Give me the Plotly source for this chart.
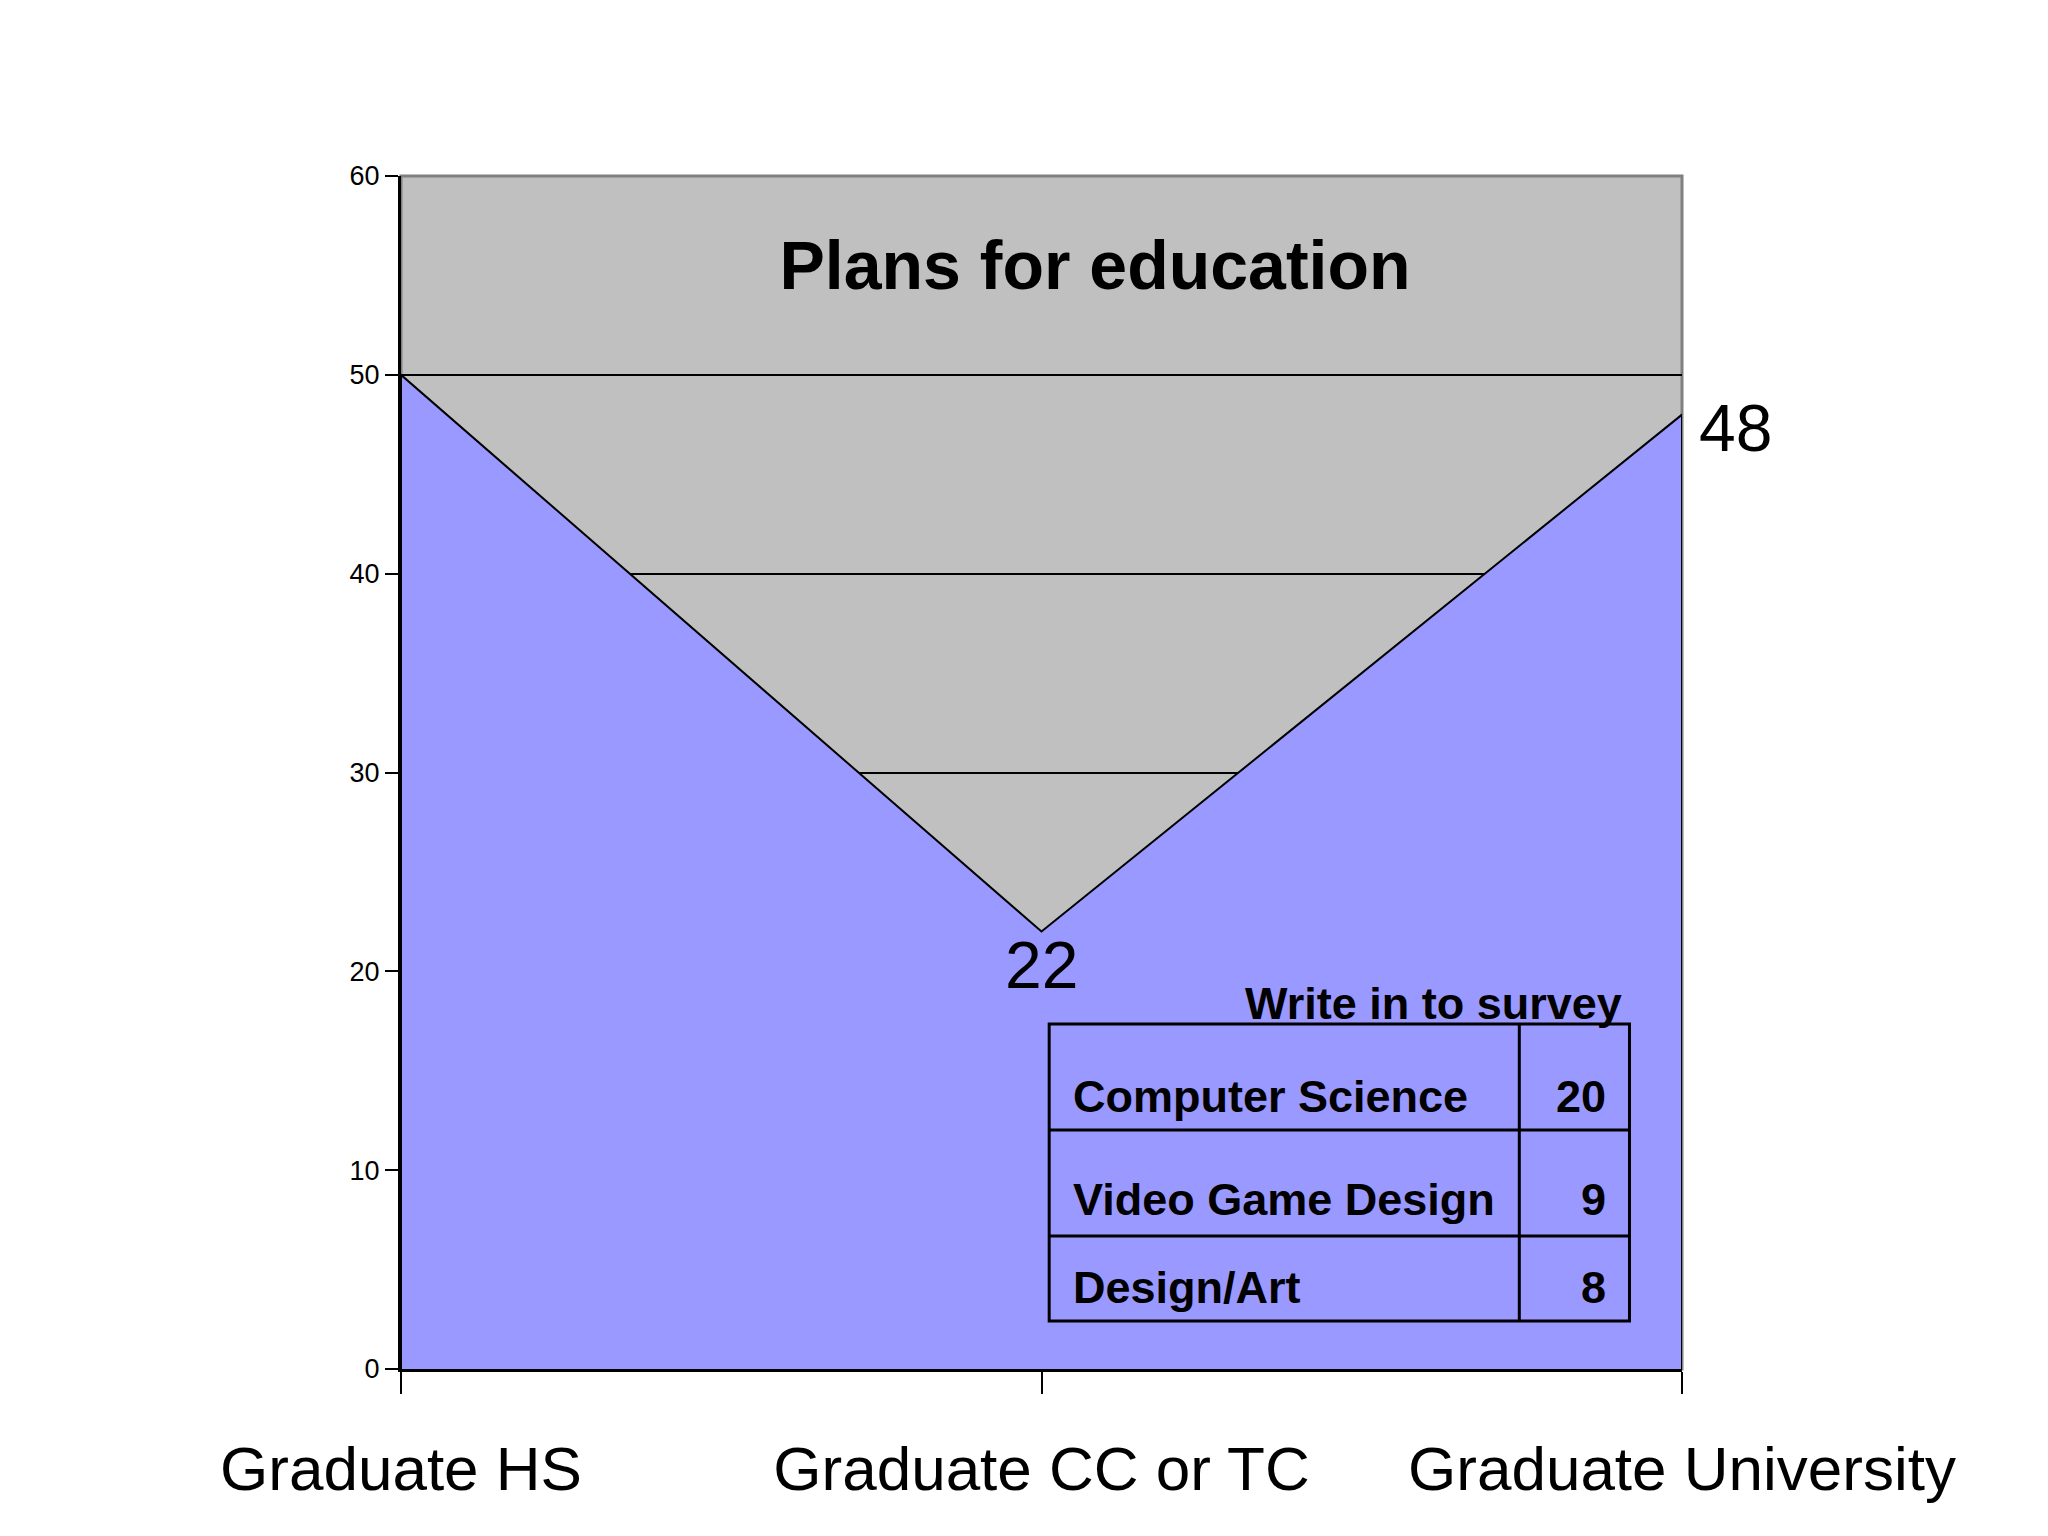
import plotly.graph_objects as go

# ---- data ----
categories = ["Graduate HS", "Graduate CC or TC", "Graduate University"]
plans = [50, 22, 48]
y_ticks = [0, 10, 20, 30, 40, 50, 60]
title_text = "Plans for education"
survey_title = "Write in to survey"
survey_fields = ["Computer Science", "Video Game Design", "Design/Art"]
survey_counts = [20, 9, 8]

FONT = "Liberation Sans, Arial, sans-serif"

# closed polygon for the area so the outline runs round it as in the original
poly_x = [categories[0]] + categories + [categories[-1]]
poly_y = [0] + plans + [0]

fig = go.Figure()
fig.add_trace(go.Scatter(
    x=poly_x, y=poly_y, mode="lines", fill="toself",
    fillcolor="#9999FF", line=dict(color="black", width=2),
    hoverinfo="skip", showlegend=False,
))

annotations = []
# data labels
annotations.append(dict(x=categories[1], y=plans[1], xref="x", yref="y",
                        text=str(plans[1]), showarrow=False, xanchor="center",
                        yanchor="middle", yshift=-33,
                        font=dict(family=FONT, size=66, color="black")))
annotations.append(dict(x=categories[2], y=plans[2], xref="x", yref="y",
                        text=str(plans[2]), showarrow=False, xanchor="left",
                        yanchor="middle", xshift=15, yshift=-13,
                        font=dict(family=FONT, size=66, color="black")))

# survey table
annotations.append(dict(x=0.955, y=18.4, xref="paper", yref="y",
                        text="<b>" + survey_title + "</b>", showarrow=False,
                        xanchor="right", yanchor="middle",
                        font=dict(family=FONT, size=45, color="black")))
row_y = [13.73, 8.5, 4.12]
for name, cnt, yy in zip(survey_fields, survey_counts, row_y):
    annotations.append(dict(x=0.523, y=yy, xref="paper", yref="y",
                            text="<b>" + name + "</b>", showarrow=False,
                            xanchor="left", yanchor="middle",
                            font=dict(family=FONT, size=45, color="black")))
    annotations.append(dict(x=0.942, y=yy, xref="paper", yref="y",
                            text="<b>" + str(cnt) + "</b>", showarrow=False,
                            xanchor="right", yanchor="middle",
                            font=dict(family=FONT, size=45, color="black")))

shapes = [
    # grey plot border (below traces)
    dict(type="rect", xref="paper", yref="paper", x0=0, x1=1, y0=0, y1=1,
         line=dict(color="#808080", width=3), layer="below"),
    # table frame and rules
    dict(type="rect", xref="paper", yref="y", x0=0.506, x1=0.959, y0=2.41, y1=17.35,
         line=dict(color="black", width=3), layer="above"),
    dict(type="line", xref="paper", yref="y", x0=0.873, x1=0.873, y0=2.41, y1=17.35,
         line=dict(color="black", width=3), layer="above"),
    dict(type="line", xref="paper", yref="y", x0=0.506, x1=0.959, y0=12.02, y1=12.02,
         line=dict(color="black", width=3), layer="above"),
    dict(type="line", xref="paper", yref="y", x0=0.506, x1=0.959, y0=6.69, y1=6.69,
         line=dict(color="black", width=3), layer="above"),
]

fig.update_layout(
    width=2048, height=1536,
    paper_bgcolor="white", plot_bgcolor="#C0C0C0",
    margin=dict(l=393, r=374, t=168, b=175, autoexpand=False),
    title=dict(text="<b>" + title_text + "</b>", xref="container", yref="container",
               x=1087 / 2048, y=1 - 257 / 1536, xanchor="center", yanchor="middle",
               font=dict(family=FONT, size=68, color="black")),
    annotations=annotations,
    shapes=shapes,
    showlegend=False,
    font=dict(family=FONT, color="black"),
)

fig.update_xaxes(
    type="category", categoryorder="array", categoryarray=categories,
    range=[0, len(categories) - 1],
    showgrid=False, zeroline=False,
    showline=True, linecolor="black", linewidth=3,
    ticks="outside", ticklen=22, tickwidth=2, tickcolor="black",
    tickfont=dict(family=FONT, size=62, color="black"),
    ticklabelstandoff=22,
)
fig.update_yaxes(
    range=[0, 60], tickvals=y_ticks, ticktext=[str(v) for v in y_ticks],
    showgrid=True, gridcolor="black", gridwidth=2, zeroline=False,
    showline=True, linecolor="black", linewidth=3,
    ticks="outside", ticklen=13, tickwidth=2, tickcolor="black",
    tickfont=dict(family=FONT, size=27, color="black"),
    ticklabelstandoff=0,
)

fig.write_html("out.html")
